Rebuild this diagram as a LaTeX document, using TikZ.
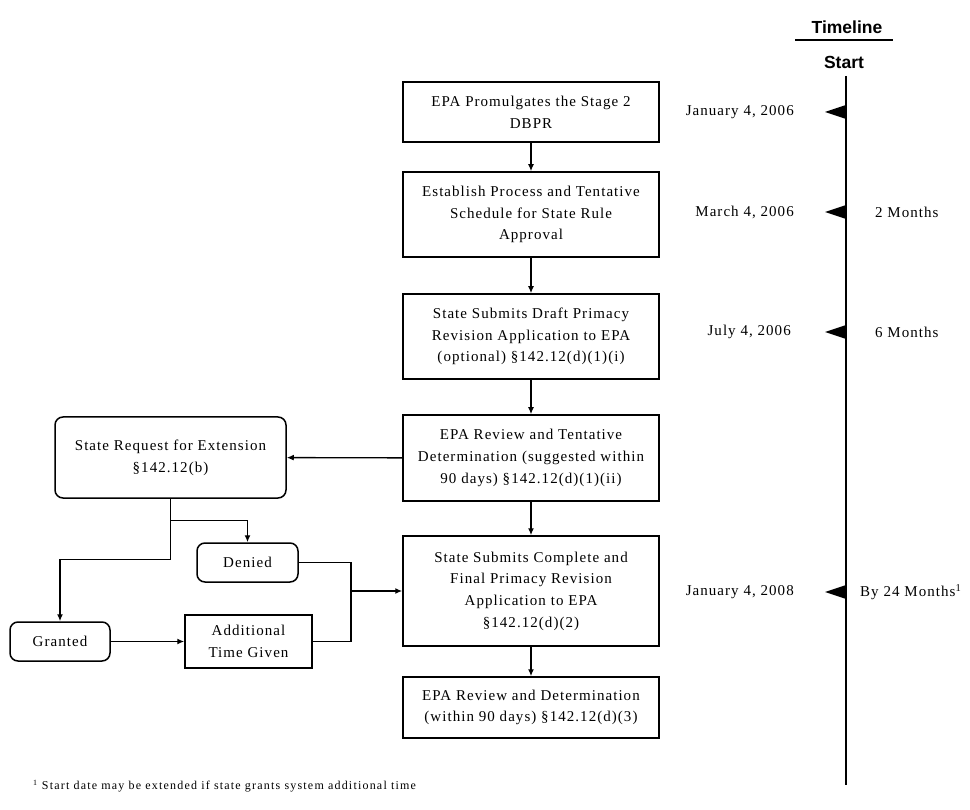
\documentclass[tikz,border=0pt]{standalone}
\usepackage{fontspec}
\usetikzlibrary{arrows.meta}
\newfontfamily\chartfont[LetterSpace=7]{Liberation Serif}
\newfontfamily\notefont[LetterSpace=10]{Liberation Serif}
\newfontfamily\headfont{Liberation Sans}

\tikzstyle{stepbox} = [draw, rectangle, line width=1.5pt, minimum width=256pt, inner sep=0pt, align=center, font=\chartfont\fontsize{15}{21.7}\selectfont]
\tikzstyle{sidebox} = [stepbox, rounded corners=8pt]
\tikzstyle{arr} = [line width=1.4pt, -{Latex[length=7pt,width=6pt]}]
\tikzstyle{datelabel} = [anchor=east, inner sep=0pt, font=\chartfont\fontsize{15}{18}\selectfont]
\tikzstyle{monthlabel} = [anchor=west, inner sep=0pt, font=\chartfont\fontsize{15}{18}\selectfont]
\tikzstyle{heading} = [font=\headfont\bfseries\fontsize{17.5}{20}\selectfont]

\begin{document}
\begin{tikzpicture}[x=1pt,y=-1pt]
		\useasboundingbox (0,0) rectangle (970,810);
		% main column
		\node[stepbox, minimum height=60pt] (s1) at (531,112) {EPA Promulgates the Stage 2\\DBPR};
		\node[stepbox, minimum height=85pt] (s2) at (531,214.5) {Establish Process and Tentative\\Schedule for State Rule\\Approval};
		\node[stepbox, minimum height=85pt] (s3) at (531,336.5) {State Submits Draft Primacy\\Revision Application to EPA\\(optional) \S142.12(d)(1)(i)};
		\node[stepbox, minimum height=86pt] (s4) at (531,458) {EPA Review and Tentative\\Determination (suggested within\\90 days) \S142.12(d)(1)(ii)};
		\node[stepbox, minimum height=110pt] (s5) at (531,591) {State Submits Complete and\\Final Primacy Revision\\Application to EPA\\\S142.12(d)(2)};
		\node[stepbox, minimum height=61pt] (s6) at (531,707.5) {EPA Review and Determination\\(within 90 days) \S142.12(d)(3)};
		\draw[arr] (s1) -- (s2);
		\draw[arr] (s2) -- (s3);
		\draw[arr] (s3) -- (s4);
		\draw[arr] (s4) -- (s5);
		\draw[arr] (s5) -- (s6);
		% extension branch
		\node[sidebox, minimum width=231pt, minimum height=81pt] (ext) at (170.5,457.5) {State Request for Extension\\\S142.12(b)};
		\node[sidebox, minimum width=101pt, minimum height=39pt] (denied) at (247.5,562.5) {Denied};
		\node[sidebox, minimum width=100pt, minimum height=39pt] (granted) at (60,641.5) {Granted};
		\node[stepbox, minimum width=127pt, minimum height=53pt] (addtime) at (248.5,641.5) {Additional\\Time Given};
		\coordinate (join) at (351,591);
		\draw[arr] (s4) -- (ext);
		\draw[arr] (ext.south) -- ++(0,61) -| (granted.north);
		\draw[arr] (ext.south) ++(0,22) -| (denied.north);
		\draw[arr] (granted) -- (addtime);
		\draw[line width=1.4pt] (denied.east) -| (join) |- (addtime.east);
		\draw[arr] (join) -- (s5);
		% timeline
		\node[heading] (tl) at (847,27) {Timeline};
		\draw[line width=1.8pt] (795,40) -- (893,40);
		\node[heading] (start) at (844,62) {Start};
		\draw[line width=1.4pt] (846,76) -- (846,785);
		\foreach \y in {112,212,332,592}
			\fill (846,\y-7) -- (825,\y) -- (846,\y+7) -- cycle;
		\node[datelabel] (d1) at (794,112) {January 4, 2006};
		\node[datelabel] (d2) at (794,212) {March 4, 2006};
		\node[datelabel] (d3) at (791,332) {July 4, 2006};
		\node[datelabel] (d4) at (794,592) {January 4, 2008};
		\node[monthlabel] (m2) at (875,212) {2 Months};
		\node[monthlabel] (m6) at (875,332) {6 Months};
		\node[monthlabel] (m24) at (860,592) {By 24 Months\textsuperscript{1}};
		% footnote
		\node[anchor=west, inner sep=0pt, font=\notefont\fontsize{12}{14}\selectfont] (note) at (33,786) {\textsuperscript{1} Start date may be extended if state grants system additional time};
\end{tikzpicture}
\end{document}
